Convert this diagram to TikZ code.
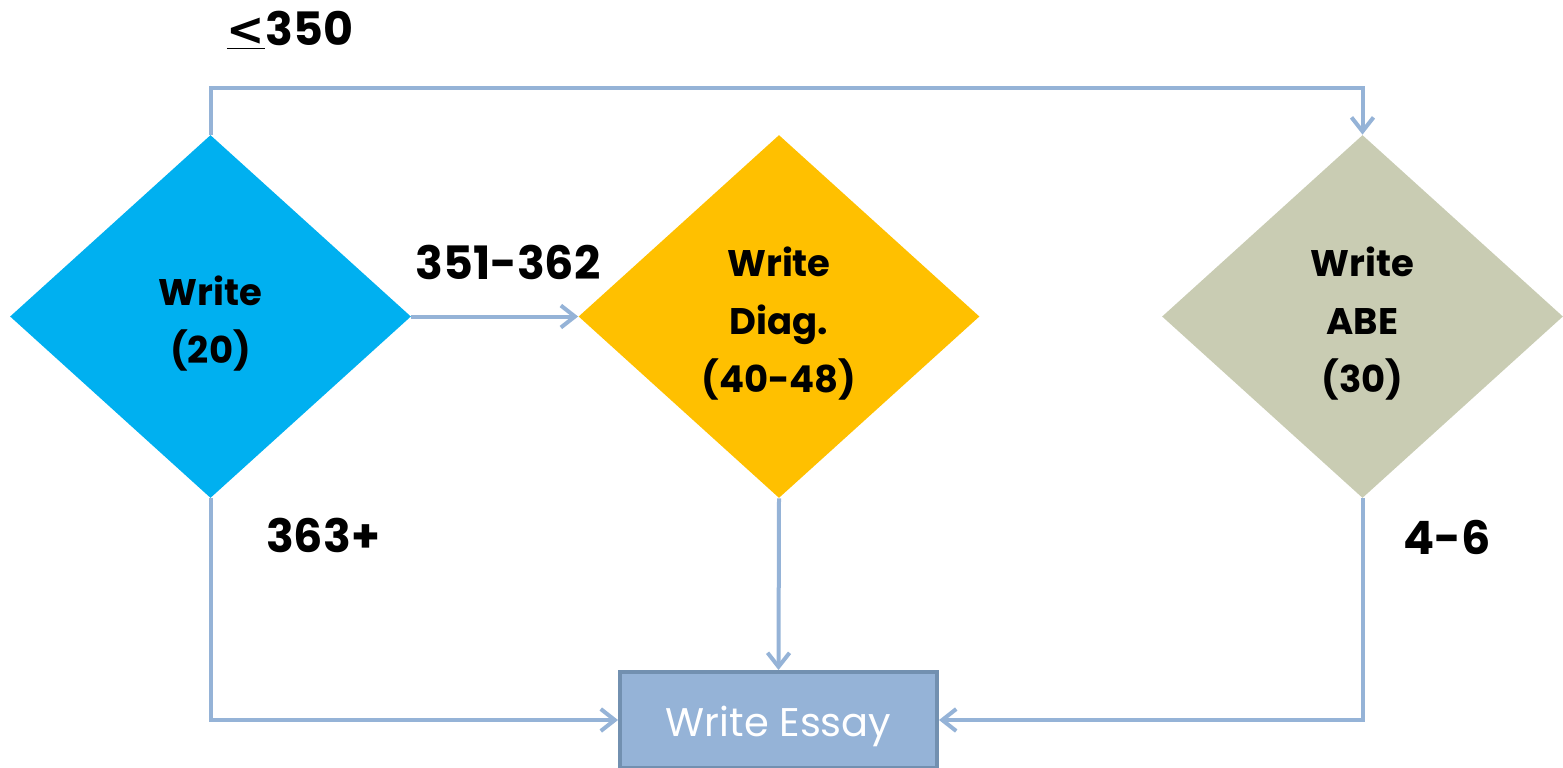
\documentclass[tikz,border=0pt]{standalone}
\usepackage{fontspec}
\setmainfont{Poppins}
\newfontfamily\symfont{DejaVu Sans}
\usetikzlibrary{shapes.geometric}
\usetikzlibrary{arrows.meta}
\definecolor{linkblue}{HTML}{95B3D7}
\definecolor{edgeblue}{HTML}{7290B0}
\definecolor{skyblue}{HTML}{00B0F0}
\definecolor{gold}{HTML}{FFC000}
\definecolor{sage}{HTML}{C9CCB3}
\newcommand{\tallstrut}{\rule{0pt}{17.5pt}}

\begin{document}
\begin{tikzpicture}[x=0.5pt, y=-0.5pt,
    link/.style={draw=linkblue, line width=2pt},
    arrow/.style={link, -{Straight Barb[length=7pt, width=11pt, line width=2pt]}},
    decision/.style={diamond, minimum width=200.5pt, minimum height=181.5pt,
        inner sep=0pt, align=center, font=\bfseries\fontsize{18.5}{29}\selectfont,
        text depth=0pt},
    rangelabel/.style={font=\bfseries\fontsize{23}{27}\selectfont},
    essaybox/.style={draw=edgeblue, line width=2pt, fill=linkblue, text=white,
        minimum width=158.5pt, minimum height=48pt, text height=18pt, text depth=2pt,
        font=\fontsize{20}{24}\selectfont},
    ]
\useasboundingbox (0,0) rectangle (1563,767);

%% draw nodes
\node[decision, fill=skyblue] (wr) at (210.5,316.5) {\tallstrut Write\\(20)};
\node[decision, fill=gold] (diag) at (779,316.5) {\tallstrut Write\\Diag.\\(40-48)};
\node[decision, fill=sage] (abe) at (1362.5,316.5) {\tallstrut Write\\ABE\\(30)};
\node[essaybox] (essay) at (778.5,720) {Write Essay};

\coordinate (top) at (210.5,88);

%% label ranges
\node[rangelabel] (low) at (290,30) {\underline{{\symfont <}}350};
\node[rangelabel] (mid) at (508,262) {351-362};
\node[rangelabel] (high) at (323,535) {363+};
\node[rangelabel] (abescore) at (1447,537) {4-6};

%% draw arrows
\draw[arrow] (wr.north) -- (top) -| (abe.north);
\draw[arrow] (wr.east) -- (diag.west);
\draw[arrow] (diag.south) -- (essay.north);
\draw[arrow] (wr.south) |- (essay.west);
\draw[arrow] (abe.south) |- (essay.east);

\end{tikzpicture}
\end{document}
